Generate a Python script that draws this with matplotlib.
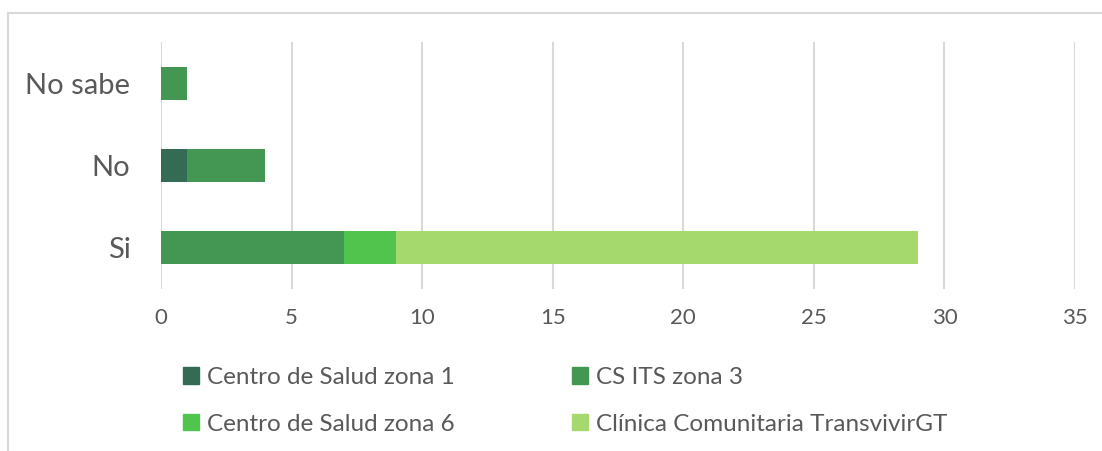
import matplotlib.pyplot as plt
from matplotlib.patches import Rectangle, Patch
import numpy as np

plt.rcParams['font.family'] = ['Lato', 'DejaVu Sans']

#---- data ----
categories = ['Si', 'No', 'No sabe']
series = ['Centro de Salud zona 1', 'CS ITS zona 3', 'Centro de Salud zona 6',
          'Clínica Comunitaria TransvivirGT']
zona1 = [0, 1, 0]
zona3 = [7, 3, 1]
zona6 = [2, 0, 0]
clinica = [20, 0, 0]
colors = ['#346b55', '#449653', '#50c44c', '#a5d96e']

#---- plot ----
fig = plt.figure(figsize=(11.02, 4.51), dpi=100)
ax = fig.add_axes([161/1102, 1 - 289/451, (1075 - 161)/1102, (289 - 42)/451])

y = np.arange(len(categories))
left = np.zeros(len(categories))
for vals, col in zip([zona1, zona3, zona6, clinica], colors):
    ax.barh(y, vals, left=left, height=0.4, color=col, zorder=3)
    left = left + np.array(vals)

ax.set_xlim(0, 35)
ax.set_ylim(-0.5, 2.5)
ax.set_xticks(range(0, 36, 5))
ax.set_yticks(y)
ax.set_yticklabels(categories, fontsize=21, color='#595959')
ax.tick_params(axis='x', labelsize=16, labelcolor='#595959', length=0, pad=14)
ax.tick_params(axis='y', length=0, pad=22)
ax.grid(axis='x', color='#d9d9d9', linewidth=1.5, zorder=0)
for s in ax.spines.values():
    s.set_visible(False)

# legend, row-major order
handles = [Patch(color=c) for c in colors]
order = [0, 2, 1, 3]
fig.legend([handles[i] for i in order], [series[i] for i in order],
           ncol=2, loc='upper left', bbox_to_anchor=(183/1102, 1 - 367/451),
           frameon=False, fontsize=17.5, labelcolor='#595959',
           borderpad=0, borderaxespad=0,
           handlelength=0.65, handleheight=0.65, handletextpad=0.35,
           columnspacing=4.8, labelspacing=1.05)

# chart border
fig.patches.append(Rectangle((8/1102, -0.1), 1.2, 1 - 13/451 + 0.1,
                             transform=fig.transFigure, fill=False,
                             edgecolor='#d9d9d9', linewidth=1.5))

fig.savefig('out.png', dpi=100)
